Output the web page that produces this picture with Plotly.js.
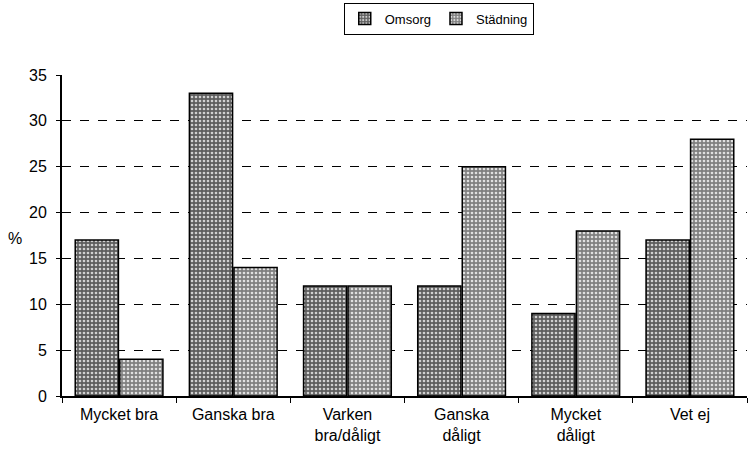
<!DOCTYPE html>
<html><head><meta charset="utf-8">
<script src="https://cdn.plot.ly/plotly-3.0.1.min.js"></script>
<style>body{margin:0;background:#fff}</style>
</head><body>
<div id="chart" style="width:749px;height:462px"></div>
<script>
const categories = ["Mycket bra", "Ganska bra", "Varken<br>bra/dåligt", "Ganska<br>dåligt", "Mycket<br>dåligt", "Vet ej"];
const omsorg = [17, 33, 12, 12, 9, 17];
const stadning = [4, 14, 12, 25, 18, 28];
const yTicks = [0, 5, 10, 15, 20, 25, 30, 35];

const fam = "Liberation Sans, Arial, sans-serif";
const font = {family: fam, size: 16, color: "#000"};
const traces = [
  {type: "bar", name: "Omsorg", x: categories, y: omsorg,
   marker: {color: "#6a6a6a", line: {color: "#000", width: 1.5},
            pattern: {shape: ".", fgcolor: "#d0d0d0", bgcolor: "#5e5e5e", size: 4, solidity: 0.35}}},
  {type: "bar", name: "Städning", x: categories, y: stadning,
   marker: {color: "#9a9a9a", line: {color: "#000", width: 1.5},
            pattern: {shape: ".", fgcolor: "#e0e0e0", bgcolor: "#808080", size: 4, solidity: 0.35}}}
];
const layout = {
  width: 749, height: 462,
  margin: {l: 62, r: 2, t: 75, b: 66, autoexpand: false},
  paper_bgcolor: "#fff", plot_bgcolor: "#fff",
  font: font,
  barmode: "group", bargap: 0.22, bargroupgap: 0.03,
  showlegend: true,
  legend: {orientation: "h", x: 0.55, xanchor: "center", y: 1.176, yanchor: "middle",
           bordercolor: "#000", borderwidth: 1, font: {family: fam, size: 13, color: "#000"},
           itemwidth: 30, tracegroupgap: 0},
  xaxis: {showline: true, linecolor: "#000", linewidth: 1.5, ticks: "outside", tickson: "boundaries",
          ticklen: 5, tickcolor: "#000", showgrid: false, tickfont: font, ticklabelstandoff: 3},
  yaxis: {range: [0, 35], tickvals: yTicks, showline: true, linecolor: "#000", linewidth: 2,
          ticks: "outside", ticklen: 4, tickcolor: "#000", showgrid: true, gridcolor: "#000",
          griddash: "dash", gridwidth: 1, zeroline: false, tickfont: font, ticklabelstandoff: 6},
  annotations: [{text: "%", xref: "paper", yref: "paper", x: -0.082, y: 0.49, showarrow: false,
                 font: font}]
};
Plotly.newPlot("chart", traces, layout, {displayModeBar: false, staticPlot: true});
</script>
</body></html>
